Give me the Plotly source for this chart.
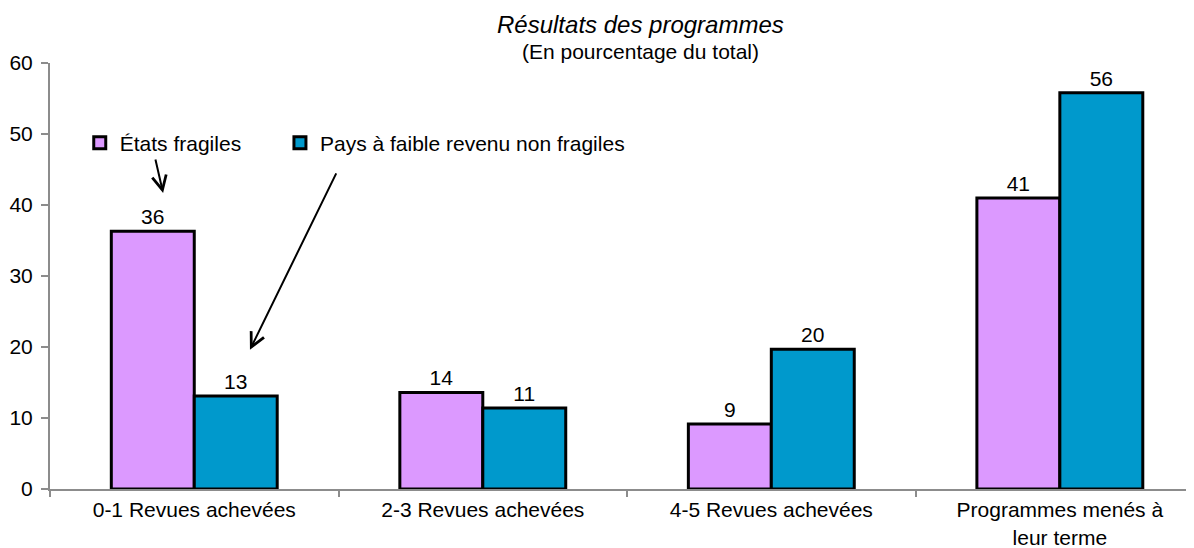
import plotly.graph_objects as go

categories = ["0-1 Revues achevées", "2-3 Revues achevées", "4-5 Revues achevées",
              "Programmes menés à<br>leur terme"]
fragile = [36.3, 13.6, 9.15, 41.0]
non_fragile = [13.1, 11.4, 19.7, 55.8]
series_names = ["États fragiles", "Pays à faible revenu non fragiles"]
y_ticks = [0, 10, 20, 30, 40, 50, 60]

FONT = "Liberation Sans, Arial, sans-serif"
FS = 21

fig = go.Figure()
fig.add_trace(go.Bar(
    x=categories, y=fragile, name=series_names[0], legend="legend",
    marker=dict(color="#DC99FF", line=dict(color="black", width=3)),
    texttemplate="%{y:.0f}", textposition="outside",
    textfont=dict(size=FS, color="black", family=FONT), cliponaxis=False))
fig.add_trace(go.Bar(
    x=categories, y=non_fragile, name=series_names[1], legend="legend2",
    marker=dict(color="#0099CC", line=dict(color="black", width=3)),
    texttemplate="%{y:.0f}", textposition="outside",
    textfont=dict(size=FS, color="black", family=FONT), cliponaxis=False))

legend_common = dict(orientation="h", xanchor="left", yanchor="middle",
                     bgcolor="rgba(0,0,0,0)", font=dict(size=FS, family=FONT),
                     itemclick=False, itemdoubleclick=False)

fig.update_layout(
    width=1194, height=548,
    margin=dict(l=42, r=8, t=55, b=67),
    paper_bgcolor="white", plot_bgcolor="white",
    font=dict(family=FONT, size=FS, color="black"),
    barmode="group", bargap=0.425, bargroupgap=0,
    showlegend=True,
    legend=dict(x=0.026, y=0.812, **legend_common),
    legend2=dict(x=0.201, y=0.812, **legend_common),
    xaxis=dict(range=[-0.5, 3.465], showline=True, linecolor="#8C8C8C", linewidth=2,
               ticks="outside", tickson="boundaries", ticklen=6, tickcolor="#8C8C8C",
               tickwidth=2, showgrid=False, zeroline=False, automargin=False,
               ticklabelstandoff=1,
               tickfont=dict(size=FS, family=FONT, color="black")),
    yaxis=dict(range=[0, 60], tickvals=y_ticks, showline=True, linecolor="#8C8C8C",
               linewidth=2, ticks="outside", ticklen=7, tickcolor="#8C8C8C", tickwidth=2,
               showgrid=False, zeroline=False, automargin=False,
               ticklabelstandoff=4,
               tickfont=dict(size=FS, family=FONT, color="black")),
    annotations=[
        dict(text="<i>Résultats des programmes</i>", xref="paper", yref="paper",
             x=0.516, y=1.0915, xanchor="center", yanchor="middle", showarrow=False,
             font=dict(size=24, family=FONT)),
        dict(text="(En pourcentage du total)", xref="paper", yref="paper",
             x=0.516, y=1.026, xanchor="center", yanchor="middle", showarrow=False,
             font=dict(size=FS, family=FONT)),
        dict(x=-0.108, y=41.7, xref="x", yref="y", ax=-8, ay=-35, text="",
             showarrow=True, arrowhead=5, arrowwidth=2, arrowsize=1.4, arrowcolor="black"),
        dict(x=0.193, y=19.6, xref="x", yref="y", ax=87, ay=-178, text="",
             showarrow=True, arrowhead=5, arrowwidth=2, arrowsize=1.4, arrowcolor="black"),
    ],
)

fig.write_html("out.html")
